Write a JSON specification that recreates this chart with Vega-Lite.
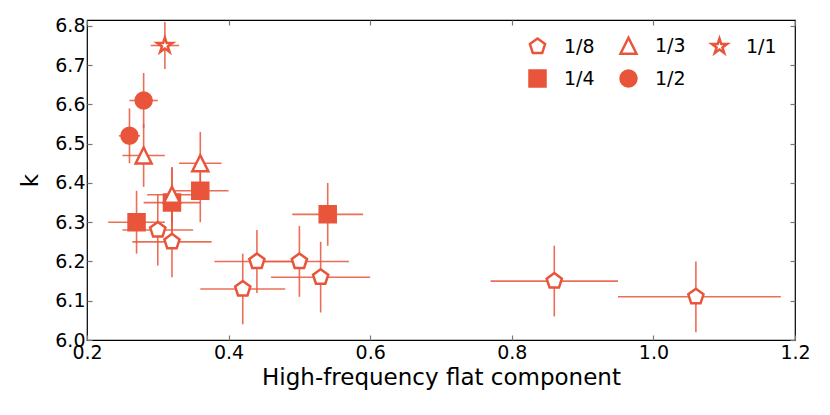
{
  "$schema": "https://vega.github.io/schema/vega-lite/v6.json",
  "width": 708,
  "height": 320,
  "autosize": "none",
  "padding": {"left": 87, "top": 20, "right": 35, "bottom": 75},
  "config": {
    "font": "DejaVu Sans",
    "view": {"stroke": "black", "strokeWidth": 1.2},
    "axis": {
      "domain": false,
      "grid": false,
      "tickSize": -5,
      "tickColor": "#777777",
      "tickWidth": 1.2,
      "labelFlush": false,
      "labelFont": "DejaVu Sans",
      "labelFontSize": 19,
      "labelColor": "black",
      "titleFont": "DejaVu Sans",
      "titleFontSize": 23,
      "titleFontWeight": "normal",
      "titleColor": "black"
    }
  },
  "data": {
    "values": [
      {"group": "1/8", "x": 0.30, "xlo": 0.25, "xhi": 0.35, "k": 6.28, "klo": 6.19, "khi": 6.37},
      {"group": "1/8", "x": 0.32, "xlo": 0.264, "xhi": 0.376, "k": 6.25, "klo": 6.16, "khi": 6.34},
      {"group": "1/8", "x": 0.42, "xlo": 0.36, "xhi": 0.48, "k": 6.13, "klo": 6.04, "khi": 6.22},
      {"group": "1/8", "x": 0.44, "xlo": 0.38, "xhi": 0.50, "k": 6.20, "klo": 6.12, "khi": 6.28},
      {"group": "1/8", "x": 0.50, "xlo": 0.43, "xhi": 0.57, "k": 6.20, "klo": 6.11, "khi": 6.29},
      {"group": "1/8", "x": 0.53, "xlo": 0.46, "xhi": 0.60, "k": 6.16, "klo": 6.07, "khi": 6.25},
      {"group": "1/8", "x": 0.86, "xlo": 0.77, "xhi": 0.95, "k": 6.15, "klo": 6.06, "khi": 6.24},
      {"group": "1/8", "x": 1.06, "xlo": 0.95, "xhi": 1.18, "k": 6.11, "klo": 6.02, "khi": 6.20},
      {"group": "1/4", "x": 0.27, "xlo": 0.23, "xhi": 0.31, "k": 6.30, "klo": 6.22, "khi": 6.38},
      {"group": "1/4", "x": 0.32, "xlo": 0.28, "xhi": 0.36, "k": 6.35, "klo": 6.26, "khi": 6.44},
      {"group": "1/4", "x": 0.36, "xlo": 0.32, "xhi": 0.40, "k": 6.38, "klo": 6.30, "khi": 6.46},
      {"group": "1/4", "x": 0.54, "xlo": 0.49, "xhi": 0.59, "k": 6.32, "klo": 6.24, "khi": 6.40},
      {"group": "1/3", "x": 0.28, "xlo": 0.25, "xhi": 0.31, "k": 6.47, "klo": 6.39, "khi": 6.55},
      {"group": "1/3", "x": 0.32, "xlo": 0.285, "xhi": 0.355, "k": 6.37, "klo": 6.30, "khi": 6.44},
      {"group": "1/3", "x": 0.36, "xlo": 0.33, "xhi": 0.39, "k": 6.45, "klo": 6.37, "khi": 6.53},
      {"group": "1/2", "x": 0.26, "xlo": 0.245, "xhi": 0.275, "k": 6.52, "klo": 6.45, "khi": 6.59},
      {"group": "1/2", "x": 0.28, "xlo": 0.26, "xhi": 0.30, "k": 6.61, "klo": 6.54, "khi": 6.68},
      {"group": "1/1", "x": 0.31, "xlo": 0.29, "xhi": 0.33, "k": 6.75, "klo": 6.69, "khi": 6.81}
    ]
  },
  "layer": [
    {
      "mark": {"type": "rule", "color": "#e8553a", "opacity": 0.85, "strokeWidth": 1.6},
      "encoding": {
        "x": {
          "field": "xlo", "type": "quantitative",
          "scale": {"domain": [0.2, 1.2], "nice": false, "zero": false},
          "axis": {"orient": "top", "labels": false, "title": null, "values": [0.2, 0.4, 0.6, 0.8, 1.0, 1.2]}
        },
        "x2": {"field": "xhi"},
        "y": {
          "field": "k", "type": "quantitative",
          "scale": {"domain": [6.0, 6.815], "nice": false, "zero": false},
          "axis": {"orient": "right", "labels": false, "title": null, "values": [6.0, 6.1, 6.2, 6.3, 6.4, 6.5, 6.6, 6.7, 6.8]}
        }
      }
    },
    {
      "mark": {"type": "rule", "color": "#e8553a", "opacity": 0.85, "strokeWidth": 1.6},
      "encoding": {
        "x": {"field": "x", "type": "quantitative", "axis": null},
        "y": {"field": "klo", "type": "quantitative", "axis": null},
        "y2": {"field": "khi"}
      }
    },
    {
      "mark": {"type": "point", "filled": false, "stroke": "#e8553a", "strokeWidth": 2.5, "opacity": 1, "size": 256},
      "encoding": {
        "x": {
          "field": "x", "type": "quantitative",
          "axis": {"orient": "bottom", "title": "High-frequency flat component", "values": [0.2, 0.4, 0.6, 0.8, 1.0, 1.2], "format": ".1f", "labelPadding": 8, "titlePadding": 4}
        },
        "y": {
          "field": "k", "type": "quantitative",
          "axis": {"orient": "left", "title": "k", "values": [6.0, 6.1, 6.2, 6.3, 6.4, 6.5, 6.6, 6.7, 6.8], "format": ".1f", "labelPadding": 7, "titlePadding": 12}
        },
        "shape": {
          "field": "group", "type": "nominal", "title": null,
          "scale": {
            "domain": ["1/8", "1/3", "1/1", "1/4", "1/2"],
            "range": [
              "M0,-1L0.951,-0.309L0.588,0.809L-0.588,0.809L-0.951,-0.309Z",
              "M0,-1L1,1L-1,1Z",
              "M0,-1L0.225,-0.309L0.951,-0.309L0.363,0.118L0.588,0.809L0,0.382L-0.588,0.809L-0.363,0.118L-0.951,-0.309L-0.225,-0.309Z",
              "square",
              "circle"
            ]
          }
        },
        "fill": {
          "field": "group", "type": "nominal", "title": null,
          "scale": {
            "domain": ["1/8", "1/3", "1/1", "1/4", "1/2"],
            "range": ["white", "white", "white", "#e8553a", "#e8553a"]
          },
          "legend": {
            "orient": "none",
            "legendX": 441,
            "legendY": 16,
            "columns": 3,
            "direction": "horizontal",
            "symbolSize": 256,
            "symbolStrokeColor": "#e8553a",
            "symbolStrokeWidth": 2.5,
            "symbolOpacity": 1,
            "labelFontSize": 19,
            "labelFont": "DejaVu Sans",
            "labelColor": "black",
            "labelOffset": 17,
            "columnPadding": 20,
            "rowPadding": 6
          }
        }
      }
    }
  ],
  "resolve": {"axis": {"x": "independent", "y": "independent"}}
}
